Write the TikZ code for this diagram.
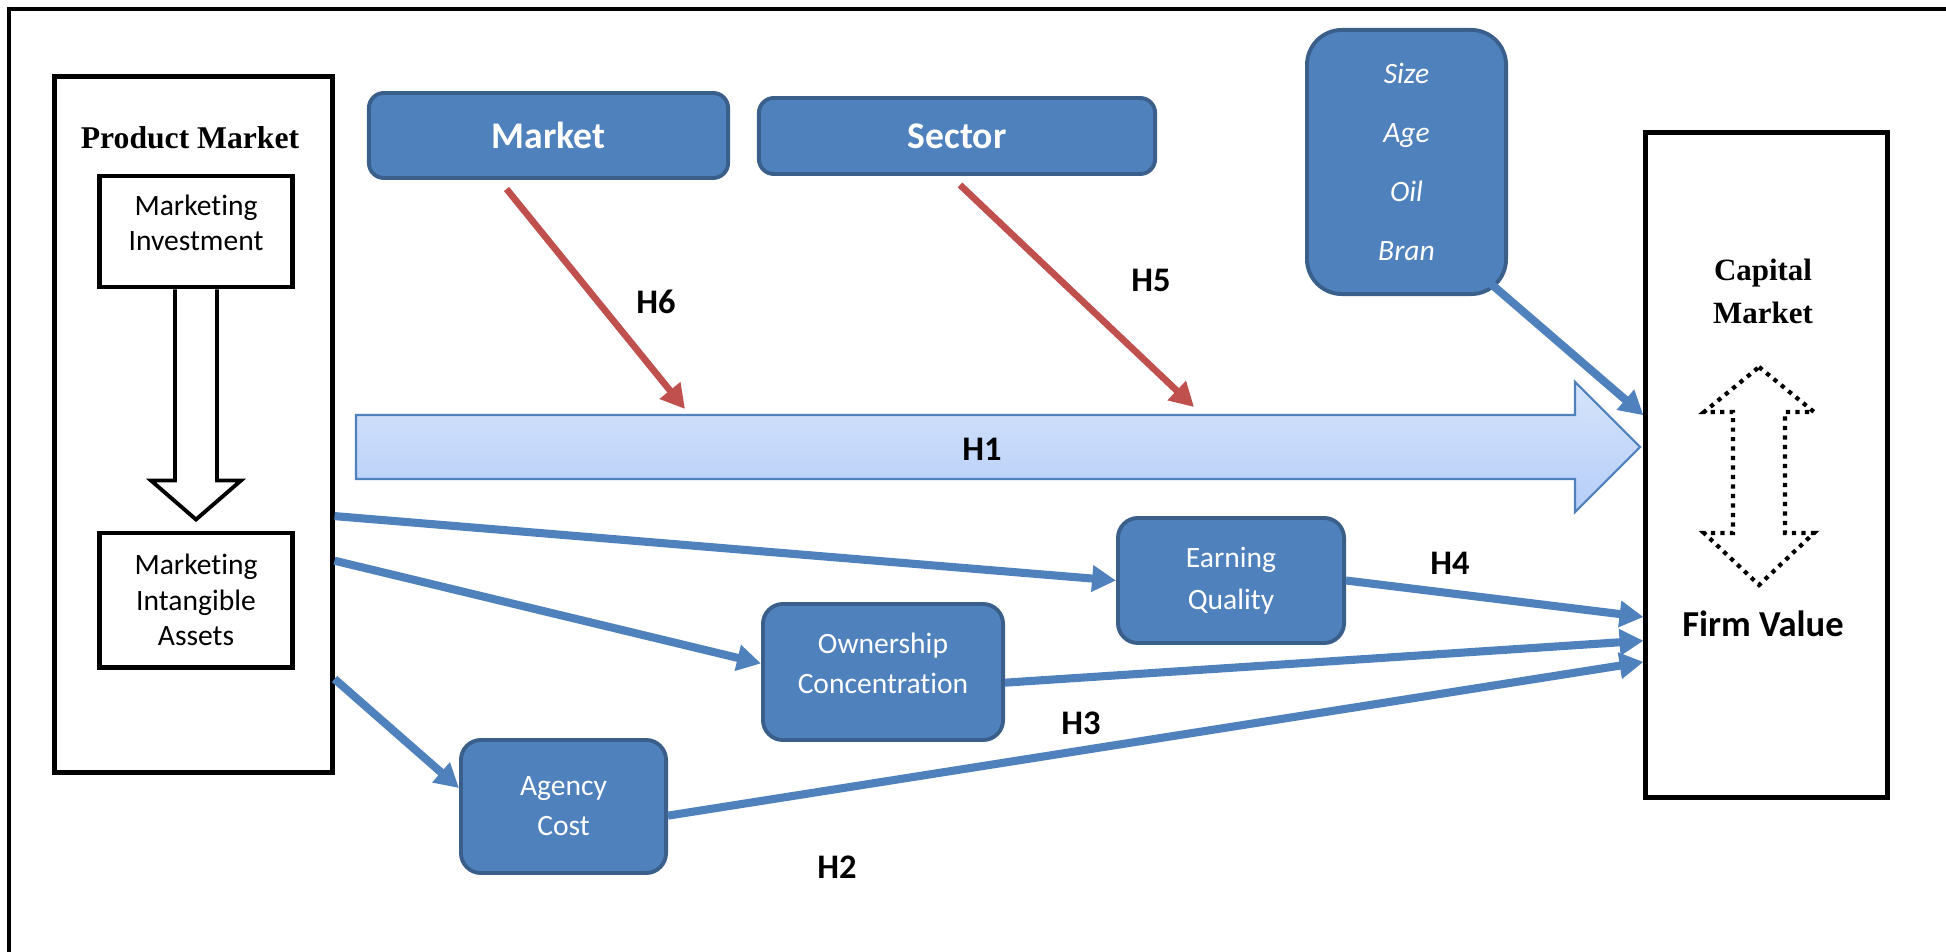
\documentclass[tikz,border=0pt]{standalone}
\usepackage{fontspec}
\setmainfont{Carlito}[Ligatures=NoCommon]
\newfontfamily\tnr{Liberation Serif}
\usetikzlibrary{arrows.meta,calc}
\definecolor{boxblue}{HTML}{4F81BD}
\definecolor{boxedge}{HTML}{3A5F8B}
\definecolor{modred}{HTML}{C0504D}
\definecolor{hatop}{HTML}{D6E4FB}
\definecolor{habot}{HTML}{B5CDF8}

\begin{document}
\begin{tikzpicture}[x=0.01cm, y=-0.01cm, >={Triangle[length=6.8pt,width=7.2pt]},
  main/.style = {draw=boxedge, fill=boxblue, line width=1.1pt, rounded corners=2mm, text=white, align=center, font=\fontsize{8.4}{11.4}\selectfont},
  blackbox/.style = {draw, line width=1.4pt, align=center, font=\fontsize{8.4}{10}\selectfont},
  link/.style = {->, draw=boxblue, line width=2.3pt},
  mod/.style = {->, draw=modred, line width=1.9pt},
  hyp/.style = {font=\bfseries\fontsize{9.8}{12}\selectfont}]
\useasboundingbox (0,0) rectangle (1946,952);
\draw[line width=1.4pt] (9,952) -- (9,9) -- (1946,9);
\node[blackbox, minimum width=2.77cm, minimum height=6.95cm] (pm) at (193.5,424.5) {};
\node[font=\tnr\bfseries\fontsize{9}{11}\selectfont] (pmt) at (190,138) {Product Market};
\node[blackbox, minimum width=1.92cm, minimum height=1.11cm, text depth=5pt] (mi) at (196,231.5) {Marketing\\Investment};
\node[blackbox, minimum width=1.92cm, minimum height=1.34cm] (mia) at (196,600) {Marketing\\Intangible\\Assets};
\node[main, rounded corners=1.5mm, minimum width=3.59cm, minimum height=0.85cm, font=\bfseries\fontsize{10.7}{13}\selectfont] (mkt) at (548.5,135.5) {Market};
\node[main, rounded corners=1.5mm, minimum width=3.96cm, minimum height=0.76cm, font=\bfseries\fontsize{10.7}{13}\selectfont] (sec) at (957,136) {Sector};
\node[main, rounded corners=3.5mm, minimum width=1.99cm, minimum height=2.64cm, font=\itshape\fontsize{8.4}{16.7}\selectfont] (ctl) at (1406.5,162) {Size\\Age\\Oil\\Bran};
\node[blackbox, minimum width=2.41cm, minimum height=6.64cm] (cap) at (1766.5,465) {};
\node[font=\tnr\bfseries\fontsize{8.8}{12.2}\selectfont, align=center] (capt) at (1763,291) {Capital\\Market};
\node[font=\bfseries\fontsize{10.4}{12}\selectfont] (fv) at (1763,624) {Firm Value};
\node[main, minimum width=2.26cm, minimum height=1.25cm, font=\fontsize{8.4}{12}\selectfont] (eq) at (1231,580.5) {Earning\\Quality};
\node[main, minimum width=2.40cm, minimum height=1.36cm, text depth=5pt] (own) at (883,672) {Ownership\\Concentration};
\node[main, minimum width=2.05cm, minimum height=1.33cm] (ag) at (563.5,806.5) {Agency\\Cost};
\draw[line width=1.1pt, fill=white] ($(mi.south)+(-21,0)$) -- ++(0,191) -- ++(-24,0) -- ($(mia.north)+(0,-11)$) -- ($(mi.south)+(45,191)$) -- ++(-24,0) -- ++(0,-191);
\draw[draw=boxblue, line width=0.6pt, top color=hatop, bottom color=habot] (356,415) -- (1575,415) -- (1575,382) -- (1640,447) -- (1575,512) -- (1575,479) -- (356,479) -- cycle;
\node[hyp] (h1) at (982,449) {H1};
\draw[dash pattern=on 1.2pt off 1.5pt, line width=1.2pt] (1759,367) -- (1814,412) -- (1785,412) -- (1785,533) -- (1814,533) -- (1759,585) -- (1704,533) -- (1733,533) -- (1733,412) -- (1704,412) -- cycle;
\coordinate (tgA) at (685,409);
\coordinate (tgB) at (1194,407);
\draw[mod] ($(mkt.south)+(-42,9)$) -- (tgA);
\draw[mod] ($(sec.south)+(3,9)$) -- (tgB);
\draw[link] ($(ctl.south east)+(-18,-13)$) -- (cap.158);
\draw[link] (pm.-33) -- (eq.west);
\draw[link] (pm.-44.5) -- (own.176);
\draw[link] (pm.-61) -- (ag.170);
\draw[link] (eq.east) -- (cap.231);
\draw[link] (own.-5) -- (cap.235.5);
\draw[link] (ag.-5) -- (cap.238);
\node[hyp] (h6) at (656,302) {H6};
\node[hyp] (h5) at (1151,280) {H5};
\node[hyp] (h4) at (1450,563) {H4};
\node[hyp] (h3) at (1081,723) {H3};
\node[hyp] (h2) at (837,867) {H2};
\end{tikzpicture}
\end{document}
